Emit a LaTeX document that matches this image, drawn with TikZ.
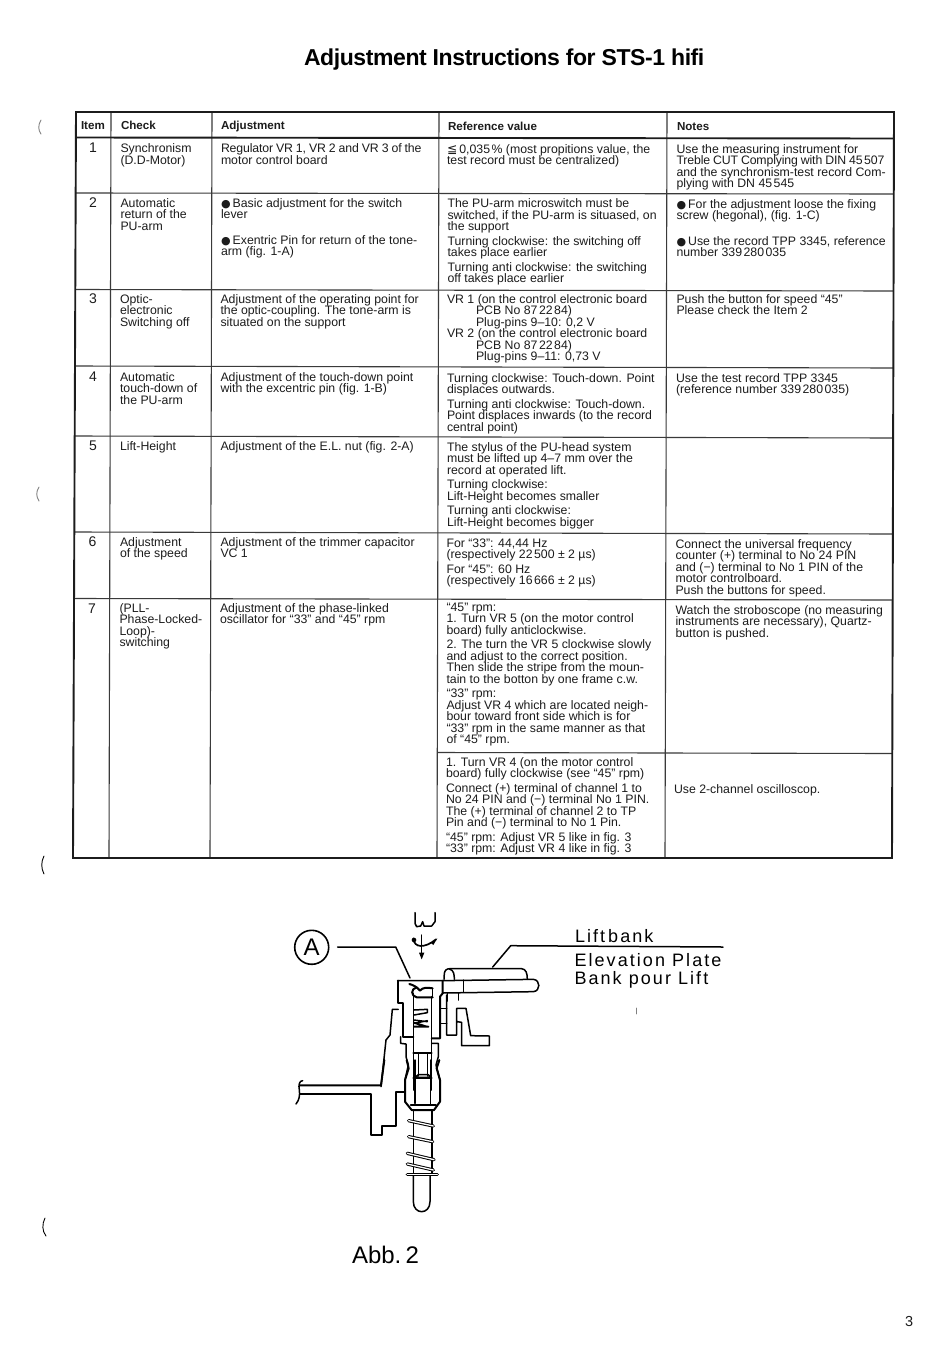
\documentclass[tikz,border=0pt]{standalone}
\usepackage{fontspec}
\setmainfont{Liberation Sans}
\newfontfamily\symf{DejaVu Sans}
\lineskiplimit=-10pt
\definecolor{ink}{HTML}{1C1C1C}
\definecolor{rulec}{HTML}{3A3A3A}
\newcommand{\bul}{{\symf\fontsize{11}{11}\selectfont ●}\,}
\newcommand{\lesym}{{\symf ≦}}
\newcommand{\tn}{\kern1.5pt}
\newcommand{\tightl}[1]{{\addfontfeatures{LetterSpace=-1.2}\spaceskip=.24em #1}}
\tikzset{
  tline/.style={draw=rulec,line width=1.1pt},
  tthick/.style={draw=ink,line width=1.9pt},
  cellt/.style={anchor=north west,inner sep=0pt,outer sep=0pt,align=left,text=ink,font=\fontsize{12.3}{11.5}\selectfont},
  headt/.style={cellt,font=\fontsize{11.6}{11.5}\selectfont\bfseries},
  itemt/.style={anchor=north,inner sep=0pt,outer sep=0pt,text=ink,font=\fontsize{14}{14}\selectfont},
  drw/.style={draw=black,line width=1.5pt,line join=round,line cap=round},
  drwb/.style={drw,line width=2pt},
  barl/.style={draw=black,line width=1pt,double=white,double distance=1.3pt,line cap=round},
  lab/.style={anchor=base west,inner sep=0pt,outer sep=0pt,text=black},
  wide/.style={lab,font=\fontsize{18}{18}\selectfont\addfontfeatures{LetterSpace=11.5}},
  speck/.style={draw=#1,line width=.9pt,line cap=round},
}
\newcommand{\tcell}[4]{\node[cellt] (#1) at (#2,{#3-9}) {\rule{0pt}{9pt}#4};}
\newcommand{\hcell}[4]{\node[headt] (#1) at (#2,{#3-9}) {\rule{0pt}{9pt}#4};}
\newcommand{\itm}[4]{\node[itemt] (#1) at (#2,{#3-11}) {\rule{0pt}{11pt}#4};}
\begin{document}
\begin{tikzpicture}[x=1pt,y=-1pt]
\useasboundingbox (0,0) rectangle (950,1347);
\fill[white] (0,0) rectangle (950,1347);
% title
\node[lab,font=\fontsize{23}{24}\selectfont\bfseries\addfontfeatures{LetterSpace=-1.8}] (title) at (304,65) {Adjustment Instructions for STS-1 hifi};
% table frame
\coordinate (tl) at (76,112); \coordinate (tr) at (894,112);
\coordinate (bl) at (73,858); \coordinate (br) at (892,858);
\coordinate (a1) at (111,112); \coordinate (b1) at (109,858);
\coordinate (a2) at (212,112); \coordinate (b2) at (210,858);
\coordinate (a3) at (439,112); \coordinate (b3) at (437,858);
\coordinate (a4) at (667,112); \coordinate (b4) at (665,858);
\coordinate (h0l) at (75.9,137.5); \coordinate (h0r) at (893.9,138.5);
\coordinate (h1l) at (75.7,193); \coordinate (h1r) at (893.8,194);
\coordinate (h2l) at (75.3,289.5); \coordinate (h2r) at (893.5,291);
\coordinate (h3l) at (75,366); \coordinate (h3r) at (893.3,368);
\coordinate (h4l) at (74.7,436); \coordinate (h4r) at (893.1,438);
\coordinate (h5l) at (74.3,532); \coordinate (h5r) at (892.9,534);
\coordinate (h6l) at (73.9,598.5); \coordinate (h6r) at (892.7,600);
\coordinate (h7l) at (437.2,752.5); \coordinate (h7r) at (892.3,753.5);
\draw[tline] (a1)--(b1) (a2)--(b2) (a3)--(b3) (a4)--(b4);
\draw[tline] (h1l)--(h1r) (h2l)--(h2r) (h3l)--(h3r) (h4l)--(h4r) (h5l)--(h5r) (h6l)--(h6r) (h7l)--(h7r);
\draw[tthick] (h0l)--(h0r);
\draw[tthick] (tl)--(tr)--(br)--(bl)--cycle;
% header
\hcell{hi}{81}{129.5}{Item}
\hcell{hc}{121}{129.5}{Check}
\hcell{ha}{221}{129.5}{Adjustment}
\hcell{hr}{448}{130}{Reference value}
\hcell{hn}{677}{130.5}{Notes}
% items
\itm{i1}{93}{152}{1}
\itm{i2}{93}{207}{2}
\itm{i3}{93}{303}{3}
\itm{i4}{93}{381}{4}
\itm{i5}{93}{450}{5}
\itm{i6}{92.5}{546}{6}
\itm{i7}{92}{613}{7}
% check column
\tcell{c1}{120.5}{152.5}{Synchronism\\(D.D-Motor)}
\tcell{c2}{120.5}{207}{Automatic\\return of the\\PU-arm}
\tcell{c3}{120}{303}{Optic-\\electronic\\Switching off}
\tcell{c4}{120}{381}{Automatic\\touch-down of\\the PU-arm}
\tcell{c5}{120}{450}{Lift-Height}
\tcell{c6}{120}{546}{Adjustment\\of the speed}
\tcell{c7}{119.5}{612}{(PLL-\\Phase-Locked-\\Loop)-\\switching}
% adjustment column
\tcell{a1t}{221}{152.5}{\tightl{Regulator VR 1, VR 2 and VR 3 of the}\\motor control board}
\tcell{a2t}{221}{207}{\bul Basic adjustment for the switch\\lever\\[14pt]\bul Exentric Pin for return of the tone-\\arm (fig. 1-A)}
\tcell{a3t}{220.5}{303}{Adjustment of the operating point for\\the optic-coupling. The tone-arm is\\situated on the support}
\tcell{a4t}{220.5}{381}{Adjustment of the touch-down point\\with the excentric pin (fig. 1-B)}
\tcell{a5t}{220.5}{450}{Adjustment of the E.L. nut (fig. 2-A)}
\tcell{a6t}{220.5}{546}{Adjustment of the trimmer capacitor\\VC 1}
\tcell{a7t}{220}{612}{Adjustment of the phase-linked\\oscillator for “33” and “45” rpm}
% reference column
\tcell{r1}{447}{153}{\lesym\,0,035\tn\% (most propitions value, the\\test record must be centralized)}
\tcell{r2}{447.5}{207.5}{The PU-arm microswitch must be\\switched, if the PU-arm is situased, on\\the support\\[3pt]Turning clockwise: the switching off\\takes place earlier\\[3pt]Turning anti clockwise: the switching\\off takes place earlier}
\tcell{r3}{447}{303}{VR 1 (on the control electronic board\\\hspace*{29pt}PCB No 87\tn22\tn84)\\\hspace*{29pt}Plug-pins 9–10: 0,2 V\\VR 2 (on the control electronic board\\\hspace*{29pt}PCB No 87\tn22\tn84)\\\hspace*{29pt}Plug-pins 9–11: 0,73 V}
\tcell{r4}{447}{382}{Turning clockwise: Touch-down. Point\\displaces outwards.\\[3pt]Turning anti clockwise: Touch-down.\\Point displaces inwards (to the record\\central point)}
\tcell{r5}{447}{451}{The stylus of the PU-head system\\must be lifted up 4–7 mm over the\\record at operated lift.\\[3pt]Turning clockwise:\\Lift-Height becomes smaller\\[3pt]Turning anti clockwise:\\Lift-Height becomes bigger}
\tcell{r6}{446.5}{547}{For “33”: 44,44 Hz\\(respectively 22\tn500 ± 2 µs)\\[3pt]For “45”: 60 Hz\\(respectively 16\tn666 ± 2 µs)}
\tcell{r7}{446.5}{611}{“45” rpm:\\1. Turn VR 5 (on the motor control\\board) fully anticlockwise.\\[3pt]2. The turn the VR 5 clockwise slowly\\and adjust to the correct position.\\Then slide the stripe from the moun-\\tain to the botton by one frame c.w.\\[3pt]“33” rpm:\\Adjust VR 4 which are located neigh-\\bour toward front side which is for\\“33” rpm in the same manner as that\\of “45” rpm.}
\tcell{r8}{446}{766}{1. Turn VR 4 (on the motor control\\board) fully clockwise (see “45” rpm)\\[3pt]Connect (+) terminal of channel 1 to\\No 24 PIN and (−) terminal No 1 PIN.\\The (+) terminal of channel 2 to TP\\Pin and (−) terminal to No 1 Pin.\\[3pt]“45” rpm: Adjust VR 5 like in fig. 3\\“33” rpm: Adjust VR 4 like in fig. 3}
% notes column
\tcell{n1}{676.5}{153}{Use the measuring instrument for\\\tightl{Treble CUT Complying with DIN 45\tn507}\\and the synchronism-test record Com-\\plying with DN 45\tn545}
\tcell{n2}{676.5}{208}{\bul For the adjustment loose the fixing\\screw (hegonal), (fig. 1-C)\\[14pt]\bul Use the record TPP 3345, reference\\number 339\tn280\tn035}
\tcell{n3}{676.5}{303}{Push the button for speed “45”\\Please check the Item 2}
\tcell{n4}{676}{382}{Use the test record TPP 3345\\(reference number 339\tn280\tn035)}
\tcell{n6}{675.5}{548}{Connect the universal frequency\\counter (+) terminal to No 24 PIN\\and (−) terminal to No 1 PIN of the\\motor controlboard.\\Push the buttons for speed.}
\tcell{n7}{675.5}{614}{Watch the stroboscope (no measuring\\instruments are necessary), Quartz-\\button is pushed.}
\tcell{n8}{674}{793}{Use 2-channel oscilloscop.}
% figure labels
\node[draw=black,line width=1.6pt,circle,minimum size=34pt,inner sep=0pt,font=\fontsize{24}{24}\selectfont] (A) at (311.7,947.3) {A};
\coordinate (Aa) at (337.7,947); \coordinate (Ab) at (395.7,947); \coordinate (At) at (410,978);
\draw[drw] (Aa) -- (Ab) -- (At);
\coordinate (Lr) at (723,947); \coordinate (Lm) at (510.7,945.7); \coordinate (Le) at (492.7,967);
\draw[drw] (Lr)--(Lm)--(Le);
\node[wide] (l1) at (575,942) {Lift\,bank};
\node[wide] (l2) at (574.5,966.5) {Elevation Plate};
\node[wide] (l3) at (574.5,984.5) {Bank pour Lift};
\node[lab,font=\fontsize{24}{25}\selectfont] (abb) at (352,1263) {\spaceskip=2pt Abb. 2};
\node[lab,font=\fontsize{14.5}{15}\selectfont,text=ink] (pg) at (905,1326) {3};
% drawing, upper part (coordinates of a 3x crop)
\begin{scope}[shift={(270,890)},x=.33333pt,y=-.33333pt]
  \draw[drw] (435,68)--(435,100)--(440,110)--(452,108)--(458,95)--(462,108)--(485,108)--(495,95)--(495,68);
  \draw[drw] (455,135)--(455,195);
  \fill[black] (447,188)--(463,188)--(455,208)--cycle;
  \draw[drw,line width=1.7pt] (430,145) .. controls (432,175) and (465,175) .. (498,148);
  \fill[black] (432,150) circle (7);
  \fill[black] (482,158)--(502,145)--(490,165)--cycle;
  % cap and plate
  \draw[drw] (522,268)--(523,250) .. controls (525,240) and (530,236) .. (540,236)--(755,236) .. controls (768,237) and (772,250) .. (772,268);
  \draw[drw] (538,237) .. controls (552,240) and (553,255) .. (553,268);
  \draw[drw] (383,272)--(518,272)--(790,268) .. controls (812,270) and (812,303) .. (790,305)--(518,309);
  \draw[drw] (580,270)--(580,306);
  \draw[drw] (532,310)--(532,333) (565,310)--(565,330);
  % collar, left and right
  \draw[drwb] (385,272)--(385,340)--(400,340)--(400,440)--(430,440);
  \draw[drw] (392,440)--(392,460)--(408,462)--(408,500)--(415,525)--(405,570)--(405,600);
  \draw[drwb] (518,272)--(518,310)--(510,320)--(510,445)--(485,445);
  \draw[drw] (485,460)--(505,460)--(505,500)--(498,525)--(510,570)--(510,600);
  % lever / fork
  \draw[drw] (513,355)--(530,355) (513,400)--(530,400);
  \draw[drw] (530,315)--(530,435)--(560,435)--(560,355)--(588,355)--(602,437)--(658,438)--(658,467)--(575,467)--(575,397)--(562,395);
  % left bracket
  \draw[drw] (333,590)--(348,450)--(360,435)--(367,358)--(385,358);
  % nut
  \draw[drwb] (418,282) .. controls (430,285) and (440,290) .. (450,302) .. controls (458,292) and (470,292) .. (488,295);
  \draw[drwb] (440,292) .. controls (422,296) and (422,318) .. (440,322)--(488,322);
  \draw[drw] (488,295)--(488,320);
  % shaft
  \draw[drw] (430,310)--(430,600);
  \draw[drw] (485,320)--(485,600);
  % spring in head
  \draw[drw] (432,360)--(472,358)--(472,368)--(432,375);
  \draw[drw] (432,390)--(472,395) (432,400)--(472,392);
  \draw[drwb] (432,410)--(475,410) (432,398)--(470,410);
  % inner sleeve
  \draw[drwb] (430,490)--(485,490);
  \draw[drw] (445,492)--(445,558) (472,492)--(472,558);
  \draw[drwb] (430,564)--(485,564);
\end{scope}
% drawing, lower part
\begin{scope}[shift={(280,1060)},x=.33333pt,y=-.33333pt]
  \draw[drwb] (380,0)--(386,25)--(375,60)--(375,125)--(395,150)--(462,150)--(480,125)--(480,60)--(470,25)--(478,0);
  \draw[drw] (405,0)--(405,130) (452,0)--(452,135);
  \draw[drw] (415,44)--(445,44)--(452,52)--(405,52)--cycle;
  \draw[drw] (392,135)--(468,135);
  \draw[drw] (68,62) .. controls (58,62) and (55,75) .. (58,90) .. controls (60,105) and (58,120) .. (48,132);
  \draw[drwb] (60,76)--(303,76)--(313,0);
  \draw[drwb] (60,103)--(272,103)--(272,225)--(305,225)--(305,197)--(348,197)--(348,97)--(375,97);
  \draw[drw] (400,150)--(400,340) (456,150)--(456,340);
  \draw[barl] (386,182)--(460,198);
  \draw[barl] (386,230)--(458,245);
  \draw[barl] (382,280)--(462,299);
  \draw[barl] (382,312)--(460,330);
  \draw[barl] (382,343)--(472,343);
  \draw[drw] (400,348)--(400,425) .. controls (400,465) and (450,465) .. (450,425)--(450,348);
\end{scope}
% scan marks at the margin
\draw[speck=gray] (41,120) .. controls (38,125) and (38,130) .. (41,134);
\draw[speck=gray] (39,487) .. controls (36,492) and (36,496) .. (39,501);
\draw[speck=black] (44,856) .. controls (41,862) and (41,868) .. (44,874);
\draw[speck=black] (45,1218) .. controls (42,1224) and (42,1231) .. (46,1236);
\draw[speck=gray] (636,1008)--(636,1014);
\end{tikzpicture}
\end{document}
